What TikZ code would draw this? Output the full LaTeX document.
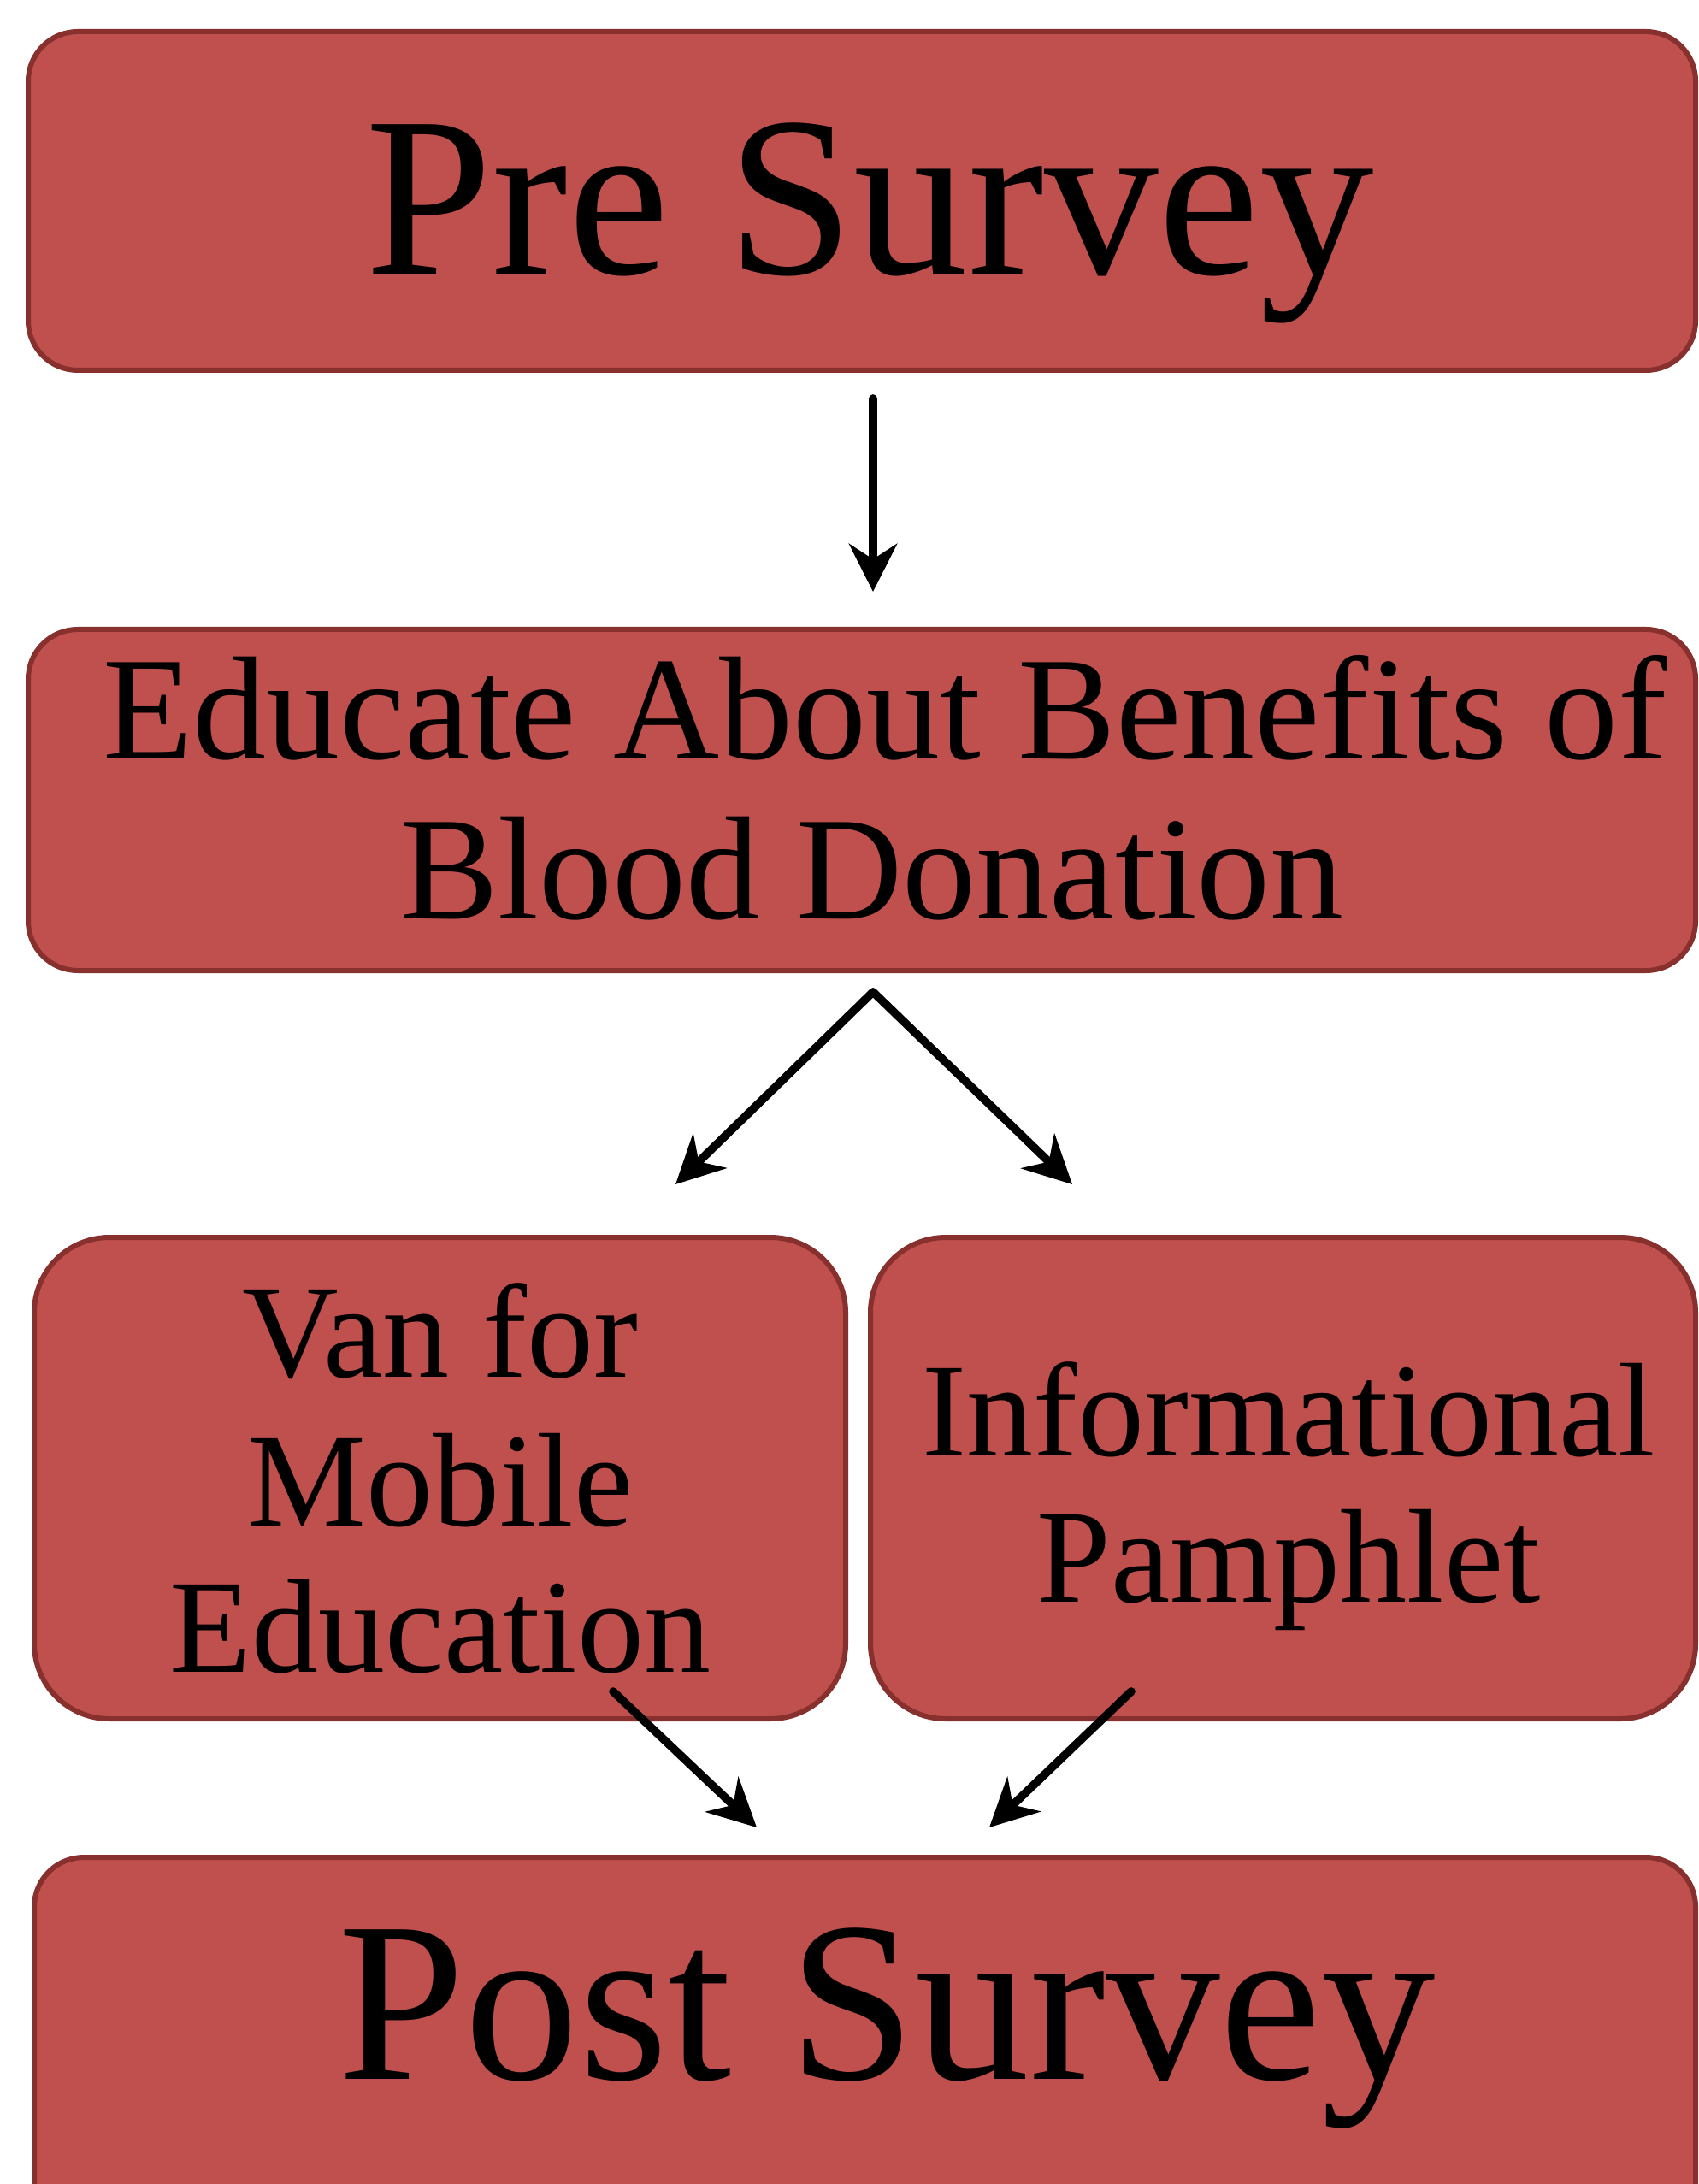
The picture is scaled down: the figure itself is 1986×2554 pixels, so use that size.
\documentclass[tikz,border=0pt]{standalone}
\usepackage{fontspec}
\setmainfont{Liberation Serif}
\usetikzlibrary{arrows.meta}
\definecolor{boxfill}{RGB}{192,80,77}
\definecolor{boxedge}{RGB}{135,48,46}
\tikzset{
  box/.style={draw=boxedge, fill=boxfill, line width=1.5pt, inner sep=0pt},
  boxa/.style={box, rounded corners=14.5pt},
  boxb/.style={box, rounded corners=22pt},
  bigtxt/.style={font=\fontsize{66.75pt}{80pt}\selectfont, inner sep=0pt, anchor=base},
  midtxt/.style={font=\fontsize{43pt}{50pt}\selectfont, inner sep=0pt, anchor=base},
  smalltxt/.style={font=\fontsize{39pt}{46pt}\selectfont, inner sep=0pt, anchor=base},
  arr/.style={line width=2.4pt, draw=black, line cap=round, -{Stealth[length=14pt,width=14pt,inset=4.5pt]}}
}
\begin{document}
\begin{tikzpicture}[x=0.25pt,y=-0.25pt]
\useasboundingbox (0,0) rectangle (1986,2554);
\clip (0,0) rectangle (1986,2554);
% boxes
\node[boxa, minimum width=487.5pt, minimum height=99pt] (pre) at (1008,235) {};
\node[boxa, minimum width=487.5pt, minimum height=99.75pt] (edu) at (1008,935.5) {};
\node[boxb, minimum width=237.25pt, minimum height=140.75pt] (van) at (514.5,1728.5) {};
\node[boxb, minimum width=241.25pt, minimum height=140.75pt] (pam) at (1500.5,1728.5) {};
\node[boxa, minimum width=485.75pt, minimum height=117pt] (post) at (1011.5,2406) {};
% texts
\node[bigtxt] (pretxt) at (1017,321) {Pre Survey};
\node[midtxt] (edutxt1) at (1035,888) {Educate About Benefits of};
\node[midtxt] (edutxt2) at (1020,1075) {Blood Donation};
\node[smalltxt] (vantxt1) at (515,1610) {Van for};
\node[smalltxt] (vantxt2) at (515,1784) {Mobile};
\node[smalltxt] (vantxt3) at (515,1955) {Education};
\node[smalltxt] (pamtxt1) at (1507,1702) {Informational};
\node[smalltxt] (pamtxt2) at (1507,1873) {Pamphlet};
\node[bigtxt] (posttxt) at (1037,2431) {Post Survey};
% connector end points
\coordinate (a1s) at (1021,466);
\coordinate (a1e) at (1021,692);
\coordinate (apex) at (1021,1160);
\coordinate (lt) at (790,1385);
\coordinate (rt) at (1254,1385);
\coordinate (b1s) at (717,1978);
\coordinate (b1e) at (885,2137);
\coordinate (b2s) at (1323,1978);
\coordinate (b2e) at (1157,2137);
% arrows
\draw[arr] (a1s) -- (a1e);
\draw[arr] (apex) -- (lt);
\draw[arr] (apex) -- (rt);
\draw[arr] (b1s) -- (b1e);
\draw[arr] (b2s) -- (b2e);
\end{tikzpicture}
\end{document}
